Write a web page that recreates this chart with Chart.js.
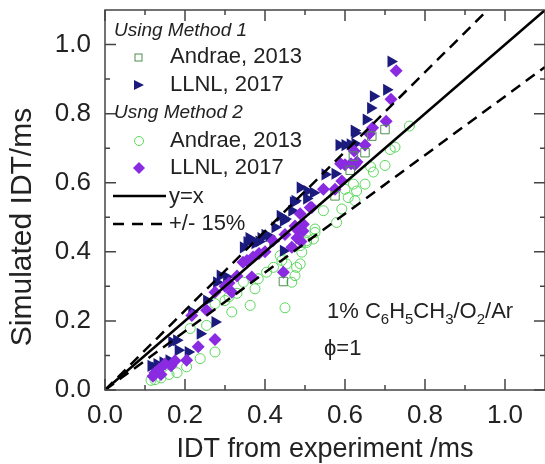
<!DOCTYPE html>
<html>
<head>
<meta charset="utf-8">
<script src="https://cdn.jsdelivr.net/npm/chart.js@4.4.0/dist/chart.umd.min.js"></script>
<style>
  html, body { margin: 0; padding: 0; background: #fff; }
  canvas { display: block; }
</style>
</head>
<body>
<canvas id="chart" width="545" height="464"></canvas>
<script>
// axis ticks
const majorTicks = [0, 0.2, 0.4, 0.6, 0.8, 1.0];
const minorTicks = [0.1, 0.3, 0.5, 0.7, 0.9];

// Method 1, Andrae 2013 (open squares)
const m1AndraeX = [0.700, 0.667, 0.650, 0.621, 0.613, 0.575, 0.446];
const m1AndraeY = [0.754, 0.735, 0.687, 0.677, 0.636, 0.562, 0.314];

// Method 1, LLNL 2017 (triangles)
const m1LlnlX = [0.715, 0.704, 0.671, 0.664, 0.653, 0.623, 0.625, 0.585, 0.600, 0.613, 0.625,
  0.550, 0.575, 0.488, 0.505, 0.521, 0.504, 0.475, 0.471, 0.467, 0.446, 0.450, 0.438, 0.425,
  0.400, 0.410, 0.420, 0.390, 0.385, 0.375, 0.370, 0.360, 0.355, 0.346, 0.446,
  0.304, 0.288, 0.279, 0.254, 0.217, 0.275, 0.238, 0.179, 0.167, 0.208, 0.183,
  0.160, 0.145, 0.130, 0.115, 0.125];
const m1LlnlY = [0.951, 0.869, 0.850, 0.816, 0.783, 0.751, 0.744, 0.709, 0.709, 0.711, 0.713,
  0.624, 0.626, 0.586, 0.576, 0.571, 0.554, 0.548, 0.543, 0.519, 0.490, 0.495, 0.504, 0.471,
  0.449, 0.445, 0.430, 0.440, 0.430, 0.425, 0.432, 0.440, 0.428, 0.413, 0.403,
  0.327, 0.331, 0.312, 0.259, 0.226, 0.197, 0.163, 0.144, 0.139, 0.110, 0.115,
  0.086, 0.080, 0.075, 0.070, 0.065];

// Method 2, Andrae 2013 (open circles)
const m2AndraeX = [0.761, 0.725, 0.713, 0.700, 0.671, 0.664, 0.650, 0.621, 0.625, 0.608, 0.600,
  0.629, 0.592, 0.579, 0.546, 0.525, 0.525, 0.521, 0.504, 0.488, 0.504, 0.492, 0.488, 0.479,
  0.475, 0.467, 0.454, 0.442, 0.438, 0.421, 0.404, 0.383, 0.375, 0.346, 0.363, 0.317, 0.450,
  0.330, 0.310, 0.300, 0.275, 0.254, 0.213, 0.275, 0.238, 0.204, 0.180, 0.160, 0.140, 0.125, 0.115];
const m2AndraeY = [0.764, 0.703, 0.696, 0.650, 0.631, 0.646, 0.596, 0.596, 0.548, 0.557, 0.581,
  0.576, 0.524, 0.485, 0.519, 0.466, 0.456, 0.437, 0.427, 0.418, 0.432, 0.399, 0.365, 0.355,
  0.331, 0.312, 0.365, 0.375, 0.389, 0.355, 0.341, 0.322, 0.293, 0.312, 0.245, 0.226, 0.238,
  0.280, 0.270, 0.259, 0.250, 0.187, 0.178, 0.110, 0.091, 0.067, 0.050, 0.045, 0.035, 0.030, 0.028];

// Method 2, LLNL 2017 (diamonds)
const m2LlnlX = [0.728, 0.715, 0.703, 0.669, 0.661, 0.650, 0.625, 0.623, 0.589, 0.600, 0.615, 0.630,
  0.592, 0.546, 0.575, 0.517, 0.513, 0.488, 0.496, 0.475, 0.483, 0.495, 0.480, 0.490, 0.467,
  0.450, 0.420, 0.400, 0.385, 0.370, 0.355, 0.345, 0.367, 0.446, 0.330, 0.310, 0.300,
  0.317, 0.275, 0.254, 0.217, 0.275, 0.233, 0.204, 0.175, 0.165, 0.150, 0.135, 0.125, 0.120, 0.140];
const m2LlnlY = [0.924, 0.842, 0.778, 0.759, 0.742, 0.709, 0.653, 0.692, 0.655, 0.652, 0.655, 0.660,
  0.605, 0.581, 0.581, 0.528, 0.528, 0.510, 0.480, 0.475, 0.461, 0.460, 0.440, 0.430, 0.413,
  0.450, 0.432, 0.400, 0.395, 0.385, 0.375, 0.370, 0.327, 0.341, 0.330, 0.310, 0.300,
  0.283, 0.283, 0.231, 0.216, 0.146, 0.125, 0.086, 0.085, 0.070, 0.075, 0.060, 0.050, 0.040, 0.045];

// reference lines: y = x and +/- 15 %
const lineX = [0, 1.1];
const bandFactors = [1.15, 0.85];

const FONT = "'Liberation Sans', Arial, sans-serif";
const NAVY = '#1b1b7d';
const PURPLE = '#8a2be2';
const LIGHTGREEN = '#5ad85a';
const SQGREEN = '#4f8f4f';

function pts(xs, ys) {
  return xs.map((x, i) => ({ x: x, y: ys[i] }));
}

// frame, inward ticks, titles, legend and annotation
const decorations = {
  id: 'decorations',
  afterDatasetsDraw(chart) {
    const ctx = chart.ctx;
    const a = chart.chartArea;
    const xs = chart.scales.x, ys = chart.scales.y;
    ctx.save();
    ctx.strokeStyle = '#444';
    ctx.lineWidth = 1.5;
    ctx.strokeRect(a.left, a.top, a.right - a.left, a.bottom - a.top);
    const tick = (v, len) => {
      const px = xs.getPixelForValue(v);
      const py = ys.getPixelForValue(v);
      ctx.beginPath();
      ctx.moveTo(px, a.bottom); ctx.lineTo(px, a.bottom - len);
      ctx.moveTo(px, a.top); ctx.lineTo(px, a.top + len);
      ctx.moveTo(a.left, py); ctx.lineTo(a.left + len, py);
      ctx.moveTo(a.right, py); ctx.lineTo(a.right - len, py);
      ctx.stroke();
    };
    majorTicks.forEach(v => tick(v, 11));
    minorTicks.forEach(v => tick(v, 5));

    // axis titles
    ctx.fillStyle = '#222';
    ctx.textBaseline = 'middle';
    ctx.textAlign = 'center';
    ctx.font = '27px ' + FONT;
    ctx.fillText('IDT from experiment /ms', (a.left + a.right) / 2, 450);
    ctx.save();
    ctx.translate(23, 227);
    ctx.rotate(-Math.PI / 2);
    ctx.font = '30px ' + FONT;
    ctx.fillText('Simulated IDT/ms', 0, 0);
    ctx.restore();

    // legend
    ctx.textAlign = 'left';
    ctx.font = 'italic 19px ' + FONT;
    ctx.fillText('Using Method 1', 114, 31);
    ctx.fillText('Usng Method 2', 114, 113);
    ctx.font = '22px ' + FONT;
    ctx.fillText('Andrae, 2013', 170, 57);
    ctx.fillText('LLNL, 2017', 170, 85);
    ctx.fillText('Andrae, 2013', 170, 141);
    ctx.fillText('LLNL, 2017', 170, 168);
    ctx.fillText('y=x', 169, 197);
    ctx.fillText('+/- 15%', 169, 224);

    ctx.lineWidth = 1;
    ctx.strokeStyle = SQGREEN;
    ctx.strokeRect(135, 54, 7, 7);
    ctx.fillStyle = NAVY;
    ctx.beginPath();
    ctx.moveTo(134, 80); ctx.lineTo(144, 85); ctx.lineTo(134, 90); ctx.closePath();
    ctx.fill();
    ctx.strokeStyle = LIGHTGREEN;
    ctx.beginPath();
    ctx.arc(139, 141, 4.5, 0, Math.PI * 2);
    ctx.stroke();
    ctx.fillStyle = PURPLE;
    ctx.beginPath();
    ctx.moveTo(139, 162); ctx.lineTo(145, 168); ctx.lineTo(139, 174); ctx.lineTo(133, 168); ctx.closePath();
    ctx.fill();
    ctx.strokeStyle = '#000';
    ctx.lineWidth = 2.5;
    ctx.beginPath();
    ctx.moveTo(113, 196); ctx.lineTo(166, 196);
    ctx.stroke();
    ctx.setLineDash([11, 8]);
    ctx.beginPath();
    ctx.moveTo(113, 224); ctx.lineTo(166, 224);
    ctx.stroke();
    ctx.setLineDash([]);

    // annotation with subscripts
    ctx.fillStyle = '#222';
    ctx.textBaseline = 'alphabetic';
    const parts = [['1% C', 0], ['6', 1], ['H', 0], ['5', 1], ['CH', 0], ['3', 1], ['/O', 0], ['2', 1], ['/Ar', 0]];
    let x = 327;
    parts.forEach(([t, sub]) => {
      ctx.font = (sub ? '15px ' : '22px ') + FONT;
      ctx.fillText(t, x, sub ? 324 : 318);
      x += ctx.measureText(t).width;
    });
    ctx.font = '22px ' + FONT;
    ctx.fillText('\u03D5=1', 324, 355);
    ctx.restore();
  }
};

const scatterSet = (label, data, style) => Object.assign({
  type: 'scatter', label: label, data: data, showLine: false
}, style);

const lineSet = (factor, dash) => ({
  type: 'scatter',
  data: lineX.map(x => ({ x: x, y: x * factor })),
  showLine: true,
  borderColor: '#000',
  borderWidth: 2.5,
  borderDash: dash,
  pointRadius: 0,
  clip: 0,
  order: 0
});

// keep the plot box at fixed pixel edges
const noPad = s => {
  s.paddingTop = 0; s.paddingBottom = 0;
  s.paddingLeft = 0; s.paddingRight = 0;
};

new Chart(document.getElementById('chart'), {
  type: 'scatter',
  data: {
    datasets: [
      lineSet(1, []),
      lineSet(bandFactors[0], [11, 7]),
      lineSet(bandFactors[1], [11, 7]),
      scatterSet('Andrae, 2013 (method 1)', pts(m1AndraeX, m1AndraeY), {
        pointStyle: 'rect', pointRadius: 6, borderColor: SQGREEN, borderWidth: 1,
        backgroundColor: 'rgba(0,0,0,0)', order: 1
      }),
      scatterSet('LLNL, 2017 (method 1)', pts(m1LlnlX, m1LlnlY), {
        pointStyle: 'triangle', pointRotation: 90, pointRadius: 7, borderWidth: 0,
        backgroundColor: NAVY, borderColor: NAVY, order: 3
      }),
      scatterSet('Andrae, 2013 (method 2)', pts(m2AndraeX, m2AndraeY), {
        pointStyle: 'circle', pointRadius: 5, borderColor: LIGHTGREEN, borderWidth: 1,
        backgroundColor: 'rgba(0,0,0,0)', order: 4
      }),
      scatterSet('LLNL, 2017 (method 2)', pts(m2LlnlX, m2LlnlY), {
        pointStyle: 'rectRot', pointRadius: 6.5, borderWidth: 0,
        backgroundColor: PURPLE, borderColor: PURPLE, order: 2
      })
    ]
  },
  options: {
    responsive: false,
    devicePixelRatio: 1,
    animation: false,
    layout: { autoPadding: false, padding: { top: 10, right: 0, left: 0, bottom: 0 } },
    plugins: { legend: { display: false }, tooltip: { enabled: false } },
    scales: {
      x: {
        type: 'linear', min: 0, max: 1.1,
        afterFit: s => { s.height = 74; noPad(s); },
        border: { display: false },
        grid: { drawOnChartArea: false, drawTicks: false },
        ticks: {
          stepSize: 0.2, includeBounds: false, padding: 10, color: '#222',
          font: { family: FONT, size: 26 },
          maxRotation: 0, autoSkip: false,
          callback: v => v.toFixed(1)
        }
      },
      y: {
        type: 'linear', min: 0, max: 1.1,
        afterFit: s => { s.width = 105; noPad(s); },
        border: { display: false },
        grid: { drawOnChartArea: false, drawTicks: false },
        ticks: {
          stepSize: 0.2, includeBounds: false, padding: 14, color: '#222',
          font: { family: FONT, size: 26 },
          autoSkip: false,
          callback: v => v.toFixed(1)
        }
      }
    }
  },
  plugins: [decorations]
});
</script>
</body>
</html>
